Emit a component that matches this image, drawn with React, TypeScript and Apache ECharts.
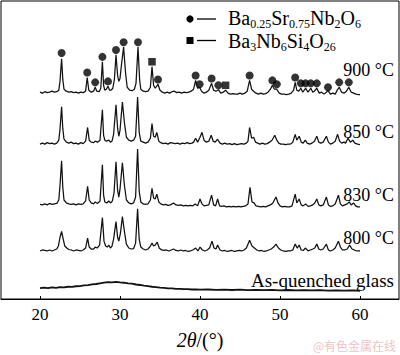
import React, { useEffect, useRef } from "react";
import * as echarts from "echarts";

// 2θ ticks
const xTicks = [20, 30, 40, 50, 60];

// vertical offsets of each stacked pattern (arb. units)
const offset900 = 210;
const offset850 = 158;
const offset830 = 96;
const offset800 = 49;
const offsetGlass = 9;

// [2θ, relative intensity]
const pattern900 = [[20,1],[20.3,0],[20.6,1.5],[20.9,0.5],[21.2,1],[21.5,2],[21.8,1],[22.1,1.5],[22.35,3],[22.5,12],[22.7,35],[22.85,14],[23.0,4],[23.3,2],[23.6,1],[23.9,1.5],[24.2,0.5],[24.5,1],[24.8,0],[25.1,1],[25.4,0.5],[25.7,2],[25.9,16],[26.1,3],[26.4,1],[26.7,2],[26.9,6],[27.1,2],[27.4,1.5],[27.6,5],[27.8,32],[27.95,8],[28.1,3],[28.3,4],[28.5,7],[28.7,3],[28.9,3],[29.1,5],[29.3,14],[29.5,39],[29.7,18],[29.85,12],[30.0,15],[30.2,30],[30.45,47],[30.7,20],[30.9,6],[31.2,3],[31.5,2.5],[31.8,4],[32.0,10],[32.25,47],[32.45,14],[32.6,4],[32.9,2],[33.2,1.5],[33.5,2],[33.8,6],[34.0,27],[34.2,8],[34.4,5],[34.75,9],[35.0,3],[35.3,1],[35.6,0],[35.9,1],[36.2,0],[36.5,1.5],[36.8,2],[37.1,0.5],[37.4,1],[37.7,0],[38.0,1],[38.3,0.5],[38.6,1],[38.9,2],[39.2,4],[39.45,13],[39.7,5],[39.95,6],[40.2,2],[40.5,0],[40.8,1],[41.1,3],[41.45,10],[41.7,3],[42.0,2],[42.3,3.5],[42.6,0],[42.9,1],[43.2,3],[43.5,0],[43.8,-1],[44.1,-0.5],[44.4,-1],[44.7,-1],[45.0,0],[45.3,-1],[45.6,0],[45.9,2],[46.2,13],[46.45,4],[46.7,2],[47.0,0],[47.3,-1],[47.6,0],[47.9,-1],[48.2,-0.5],[48.5,1],[48.8,4],[49.05,8],[49.3,4],[49.6,4],[49.9,0],[50.2,-1],[50.5,-1],[50.8,-1.5],[51.1,-1],[51.4,0],[51.7,3],[51.9,11],[52.1,3],[52.35,2],[52.6,5],[52.85,1],[53.2,5],[53.5,1],[53.85,5],[54.1,1],[54.3,2],[54.6,5],[54.9,0],[55.2,1],[55.5,-1],[55.8,1],[56.0,2.5],[56.3,-1],[56.6,0],[56.9,-1],[57.15,3],[57.4,6],[57.7,1],[58.0,0],[58.3,2],[58.6,6],[58.9,1],[59.2,0],[59.5,-1],[59.8,-1.5],[60,-1.5]];

const pattern850 = [[20,0],[20.3,1],[20.6,0],[20.9,1.5],[21.2,0.5],[21.5,1],[21.8,0],[22.1,1],[22.35,4],[22.5,15],[22.7,38],[22.85,16],[23.0,5],[23.3,2],[23.6,1],[23.9,2],[24.2,0.5],[24.5,1],[24.8,0],[25.1,1.5],[25.4,0.5],[25.7,3],[25.95,17],[26.15,4],[26.4,2],[26.7,1.5],[26.9,3],[27.2,2],[27.5,4],[27.8,35],[27.95,9],[28.1,4],[28.3,3],[28.6,4],[28.8,2],[29.0,3],[29.2,10],[29.5,40],[29.7,16],[29.85,8],[30.0,14],[30.3,43],[30.55,22],[30.8,7],[31.1,4],[31.4,3],[31.7,4],[31.95,8],[32.2,48],[32.4,12],[32.6,3],[32.9,2],[33.2,1],[33.5,2],[33.8,6],[34.0,21],[34.2,8],[34.4,7],[34.6,12],[34.85,3],[35.1,1.5],[35.4,0.5],[35.7,1],[36.0,0],[36.3,1.5],[36.6,1],[36.9,0.5],[37.2,1],[37.5,0],[37.8,1],[38.1,0.5],[38.4,1.5],[38.7,0.5],[39.0,1],[39.2,2],[39.45,6],[39.7,2],[40.0,7],[40.25,12],[40.5,4],[40.8,2],[41.1,3],[41.4,9],[41.65,3],[41.9,2],[42.2,5],[42.5,1],[42.8,0],[43.1,1],[43.4,0],[43.7,0.5],[44.0,-0.5],[44.3,0.5],[44.6,-0.5],[44.9,0],[45.2,0.5],[45.5,0],[45.8,1],[46.0,3],[46.2,17],[46.45,6],[46.7,7],[46.95,2],[47.2,1],[47.5,0],[47.8,1],[48.1,0],[48.4,0.5],[48.7,2],[49.0,4],[49.35,9],[49.6,4],[49.85,1],[50.1,0],[50.4,0],[50.7,-0.5],[51.0,0],[51.3,0],[51.6,2],[51.9,10],[52.1,4],[52.4,8],[52.65,2],[52.9,1],[53.15,4],[53.4,1],[53.7,0],[54.0,1],[54.3,3],[54.6,8],[54.85,2],[55.1,1],[55.4,2],[55.8,8],[56.05,2],[56.3,0],[56.6,1],[56.9,3],[57.2,10],[57.45,3],[57.7,1],[58.0,2],[58.2,1],[58.5,6],[58.8,2],[59.1,4],[59.35,1],[59.7,0],[60,-0.5]];

const pattern830 = [[20,0.5],[20.3,0],[20.6,1],[20.9,0],[21.2,1.5],[21.5,0.5],[21.8,1],[22.1,1.5],[22.35,5],[22.5,20],[22.7,45],[22.85,18],[23.0,5],[23.3,2],[23.6,1],[23.9,0.5],[24.2,1],[24.5,0],[24.8,1],[25.1,0.5],[25.4,1],[25.7,4],[25.95,19],[26.15,5],[26.4,2],[26.7,1],[26.9,3],[27.2,1.5],[27.5,4],[27.8,41],[27.95,10],[28.1,3],[28.35,2],[28.6,4],[28.85,2],[29.05,4],[29.25,12],[29.5,44],[29.7,15],[29.85,8],[30.0,16],[30.3,43],[30.55,20],[30.8,5],[31.1,2],[31.4,1],[31.7,2],[31.95,8],[32.2,57],[32.4,14],[32.6,3],[32.9,1],[33.2,0.5],[33.5,1],[33.8,5],[34.0,17],[34.2,7],[34.4,6],[34.6,11],[34.85,3],[35.1,1],[35.4,0],[35.7,0.5],[36.0,-0.5],[36.3,0],[36.7,2],[37.0,0],[37.3,-0.5],[37.6,0],[37.9,-1],[38.2,-0.5],[38.5,-1],[38.8,-0.5],[39.1,-1],[39.4,1],[39.7,-1],[40.0,6],[40.25,1],[40.5,-1],[40.8,-0.5],[41.1,0],[41.45,10],[41.7,0],[41.95,-1],[42.2,6],[42.45,-1],[42.7,-1.5],[43.0,-1],[43.3,-2],[43.6,-1.5],[43.9,-2],[44.2,-1.5],[44.5,-2],[44.8,-1.5],[45.1,-2],[45.4,-1.5],[45.7,-1],[46.0,1],[46.25,18],[46.5,3],[46.75,2],[47.0,-1],[47.3,-1.5],[47.6,-2],[47.9,-1.5],[48.2,-2],[48.5,-1],[48.8,0],[49.1,2],[49.5,8],[49.75,2],[50.0,-1],[50.3,-2],[50.6,-1.5],[50.9,-2],[51.2,-2],[51.5,-1],[51.9,11],[52.1,2],[52.4,6],[52.65,0],[52.9,-1],[53.2,1],[53.5,-1.5],[53.8,-1],[54.1,0],[54.35,2],[54.6,6],[54.85,0],[55.1,-1],[55.4,0],[55.8,8],[56.05,0],[56.3,-1.5],[56.6,-1],[56.9,1],[57.3,10],[57.55,1],[57.8,-1],[58.1,0],[58.4,1],[58.65,3],[58.9,0],[59.2,2],[59.45,-1],[59.7,-2],[60,-2]];

const pattern800 = [[20,0],[20.3,1],[20.6,0.5],[20.9,0],[21.2,1],[21.5,0],[21.8,1],[22.1,2],[22.3,5],[22.5,14],[22.7,20],[22.9,12],[23.1,5],[23.35,3],[23.6,1.5],[23.9,1],[24.2,0],[24.5,1],[24.8,0.5],[25.1,0],[25.4,1],[25.7,3],[25.95,13],[26.15,4],[26.4,2],[26.7,2],[26.9,4],[27.15,3],[27.45,6],[27.8,34],[28.0,10],[28.2,5],[28.4,4],[28.6,6],[28.8,3],[29.0,5],[29.2,12],[29.5,30],[29.7,14],[29.85,10],[30.05,18],[30.3,35],[30.55,20],[30.8,7],[31.1,3],[31.4,2],[31.7,2.5],[31.95,8],[32.2,43],[32.4,12],[32.6,4],[32.9,2],[33.2,1],[33.5,2],[33.8,5],[34.0,8],[34.2,5],[34.4,6],[34.65,9],[34.9,3],[35.2,1],[35.5,0.5],[35.8,1],[36.1,0],[36.4,1],[36.7,2],[37.0,0.5],[37.3,0],[37.6,1],[37.9,0],[38.2,0.5],[38.5,-0.5],[38.8,0],[39.1,1],[39.45,3],[39.75,0],[40.0,4],[40.3,1],[40.6,0],[40.9,1],[41.2,3],[41.5,10],[41.75,3],[42.0,2],[42.2,6],[42.5,1],[42.8,0],[43.1,0.5],[43.4,-0.5],[43.7,0],[44.0,0.5],[44.3,-0.5],[44.6,0],[44.9,0.5],[45.2,0],[45.5,1],[45.8,3],[46.2,11],[46.5,5],[46.8,3],[47.1,1],[47.4,0],[47.7,0.5],[48.0,-0.5],[48.3,0],[48.6,1],[48.9,2],[49.2,4],[49.5,7],[49.8,3],[50.1,1],[50.4,0],[50.7,-0.5],[51.0,0],[51.3,0],[51.6,1],[51.9,7],[52.15,3],[52.4,6],[52.65,1],[52.9,0.5],[53.2,3],[53.5,0],[53.8,1],[54.1,2],[54.35,3],[54.6,7],[54.85,2],[55.1,1],[55.4,2],[55.8,7],[56.05,1],[56.3,0],[56.6,1],[56.9,3],[57.3,10],[57.55,4],[57.8,1],[58.1,1],[58.4,2],[58.7,6],[59.0,2],[59.3,1],[59.6,0],[60,0]];

const patternGlass = [[20,2],[20.5,2.6],[21,2.1],[21.5,2.9],[22,2.4],[22.5,3.1],[23,2.8],[23.5,3.5],[24,3.4],[24.5,4.0],[25,4.2],[25.5,4.8],[26,5.1],[26.5,5.9],[27,6.3],[27.5,7.0],[28,7.6],[28.5,8.2],[29,8.0],[29.5,8.4],[30,7.9],[30.5,7.6],[31,7.0],[31.5,6.6],[32,5.8],[32.5,5.3],[33,4.6],[33.5,4.2],[34,3.5],[34.5,3.2],[35,2.6],[35.5,2.4],[36,1.9],[36.5,1.8],[37,1.3],[37.5,1.4],[38,1.0],[38.5,1.1],[39,0.7],[39.5,0.9],[40,0.5],[41,0.7],[42,0.3],[43,0.6],[44,0.2],[45,0.5],[46,0.1],[47,0.4],[48,0],[49,0.3],[50,-0.1],[51,0.2],[52,-0.2],[53,0.1],[54,-0.3],[55,0],[56,-0.4],[57,-0.1],[58,-0.5],[59,-0.2],[60,-0.6]];

// phase markers on the 900 °C pattern: [2θ, marker height above baseline]
const bsnPeaks900 = [[22.7,41],[25.9,21],[26.9,11],[27.8,37],[28.5,12],[29.5,44],[30.45,52],[32.25,52],[34.75,14],[39.45,18],[39.95,9],[41.45,15],[42.3,8],[46.2,18],[49.05,13],[49.6,9],[51.9,16],[52.6,10],[53.2,10],[53.85,10],[54.6,10],[56.0,6],[57.4,11],[58.6,11]];
const bnsPeaks900 = [[34.0,32],[43.2,8]];

const tempLabels = ["900 °C", "850 °C", "830 °C", "800 °C", "As-quenched glass"];

const shift = (pts: number[][], off: number) => pts.map(([x, y]) => [x, y + off]);

const SERIF = "'Liberation Serif', 'Times New Roman', serif";

export default function App() {
  const ref = useRef<HTMLDivElement>(null);
  useEffect(() => {
    if (!ref.current) return;
    const chart = echarts.init(ref.current, undefined, { renderer: "svg" });
    const lineSeries = (name: string, pts: number[][], off: number, w = 1.25) => ({
      name,
      type: "line",
      data: shift(pts, off),
      showSymbol: false,
      symbol: "none",
      lineStyle: { color: "#111", width: w },
      silent: true,
    });
    const richLegend = {
      n: { fontSize: 20, fontFamily: SERIF, lineHeight: 21, verticalAlign: "top", fill: "#000", color: "#000" },
      s: { fontSize: 12, fontFamily: SERIF, lineHeight: 11, padding: [10, 0, 0, 0], verticalAlign: "top", fill: "#000", color: "#000" },
    };
    const tempY = [70, 131.5, 195, 238, 280];
    chart.setOption({
      animation: false,
      grid: { left: 1, right: 1, top: 1, bottom: 50, show: true, borderColor: "#000", borderWidth: 1, containLabel: false },
      xAxis: {
        type: "value",
        min: 15.125,
        max: 64.875,
        axisLine: { show: true, lineStyle: { color: "#000", width: 1 } },
        axisTick: { show: true, inside: true, length: 3, customValues: xTicks, lineStyle: { color: "#000" } },
        axisLabel: { customValues: xTicks, fontSize: 17, fontFamily: SERIF, color: "#000", margin: 7 },
        splitLine: { show: false },
        name: "{i|2θ}{r|/(°)}",
        nameLocation: "middle",
        nameGap: 31,
        nameTextStyle: {
          rich: {
            i: { fontSize: 20, fontFamily: SERIF, fontStyle: "italic", color: "#000" },
            r: { fontSize: 20, fontFamily: SERIF, color: "#000" },
          },
        },
      },
      yAxis: { type: "value", min: 0, max: 304, show: false },
      series: [
        lineSeries("Glass", patternGlass, offsetGlass, 1.8),
        lineSeries("800", pattern800, offset800),
        lineSeries("830", pattern830, offset830),
        lineSeries("850", pattern850, offset850),
        lineSeries("900", pattern900, offset900),
        {
          name: "Ba0.25Sr0.75Nb2O6",
          type: "scatter",
          symbol: "circle",
          symbolSize: 8,
          itemStyle: { color: "#000" },
          data: shift(bsnPeaks900, offset900),
          silent: true,
        },
        {
          name: "Ba3Nb6Si4O26",
          type: "scatter",
          symbol: "rect",
          symbolSize: 7.5,
          itemStyle: { color: "#000" },
          data: shift(bnsPeaks900, offset900),
          silent: true,
        },
      ],
      graphic: [
        { type: "circle", shape: { cx: 190, cy: 19, r: 3.6 }, style: { fill: "#000" } },
        { type: "line", shape: { x1: 197, y1: 19, x2: 216, y2: 19 }, style: { stroke: "#000", lineWidth: 1.3 } },
        { type: "rect", shape: { x: 186.5, y: 37, width: 7, height: 7 }, style: { fill: "#000" } },
        { type: "line", shape: { x1: 197, y1: 40.5, x2: 216, y2: 40.5 }, style: { stroke: "#000", lineWidth: 1.3 } },
        {
          type: "text",
          x: 228,
          y: 8,
          style: {
            text: "{n|Ba}{s|0.25}{n|Sr}{s|0.75}{n|Nb}{s|2}{n|O}{s|6}",
            rich: richLegend,
            verticalAlign: "top",
            align: "left",
          },
        },
        {
          type: "text",
          x: 228,
          y: 30.5,
          style: {
            text: "{n|Ba}{s|3}{n|Nb}{s|6}{n|Si}{s|4}{n|O}{s|26}",
            rich: richLegend,
            verticalAlign: "top",
            align: "left",
          },
        },
        ...tempLabels.map((t, i) => ({
          type: "text",
          x: 394,
          y: tempY[i],
          style: {
            text: t,
            fill: "#000",
            font: `${i === 4 ? 19 : 18}px ${SERIF}`,
            align: "right",
            verticalAlign: "middle",
          },
        })),
        {
          type: "text",
          x: 396,
          y: 345,
          style: {
            text: "@有色金属在线",
            fill: "rgba(225,140,140,0.55)",
            font: "12px 'Noto Sans CJK SC', sans-serif",
            align: "right",
            verticalAlign: "middle",
          },
        },
      ],
    });
    return () => chart.dispose();
  }, []);
  return <div ref={ref} style={{ width: 400, height: 355, position: "absolute", left: 0, top: 0 }} />;
}
